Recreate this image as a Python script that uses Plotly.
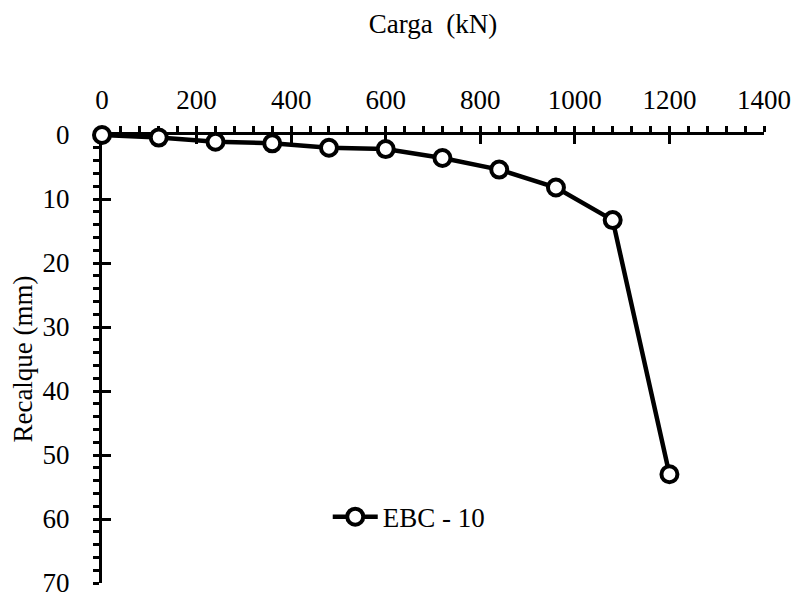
import plotly.graph_objects as go

carga_kN = [0, 120, 240, 360, 480, 600, 720, 840, 960, 1080, 1200]
recalque_mm = [0, 0.4, 1.05, 1.3, 2.0, 2.2, 3.6, 5.4, 8.2, 13.3, 53.0]
series_name = "EBC - 10"
x_title = "Carga  (kN)"
y_title = "Recalque (mm)"

FONT = "Liberation Serif"
FS = 27

fig = go.Figure()
fig.add_trace(go.Scatter(
    x=carga_kN, y=recalque_mm, name=series_name, mode="lines+markers",
    line=dict(color="black", width=4.5),
    marker=dict(symbol="circle", size=16, color="white",
                line=dict(color="black", width=4)),
    cliponaxis=False,
))
# dummy trace for overlay axes (inner half of crossing major ticks)
fig.add_trace(go.Scatter(x=[None], y=[None], xaxis="x2", yaxis="y2",
                         showlegend=False, hoverinfo="skip"))

# page body has an 8px default margin, so the figure is sized to fit
fig.update_layout(
    width=791, height=593,
    paper_bgcolor="white", plot_bgcolor="white",
    margin=dict(l=94, r=35, t=127, b=18),
    font=dict(family=FONT, size=FS, color="black"),
    showlegend=True,
    legend=dict(x=0.341, y=0.147, xanchor="left", yanchor="middle",
                itemwidth=45,
                bgcolor="rgba(0,0,0,0)", font=dict(family=FONT, size=FS)),
    xaxis=dict(
        side="top", range=[0, 1400], tick0=0, dtick=200,
        showline=True, linecolor="black", linewidth=3,
        ticks="outside", ticklen=6, tickwidth=2.5, tickcolor="black",
        minor=dict(dtick=40, tick0=0, ticks="outside", ticklen=6,
                   tickwidth=2.5, tickcolor="black"),
        showgrid=False, zeroline=False, layer="below traces",
        automargin=False,
        ticklabelstandoff=6,
        title=dict(text=x_title, standoff=44, font=dict(family=FONT, size=FS)),
        tickfont=dict(family=FONT, size=FS),
    ),
    yaxis=dict(
        range=[70, 0], tick0=0, dtick=10,
        showline=True, linecolor="black", linewidth=3,
        ticks="outside", ticklen=6, tickwidth=2.5, tickcolor="black",
        minor=dict(dtick=2, tick0=0, ticks="outside", ticklen=6,
                   tickwidth=2.5, tickcolor="black"),
        showgrid=False, zeroline=False, layer="below traces",
        automargin=False,
        ticklabelstandoff=18,
        title=dict(text=y_title, standoff=9, font=dict(family=FONT, size=FS)),
        tickfont=dict(family=FONT, size=FS),
    ),
    xaxis2=dict(
        overlaying="x", side="top", anchor="y2", range=[0, 1400], tick0=0, dtick=200,
        ticks="inside", ticklen=9, tickwidth=2.5, tickcolor="black",
        showticklabels=False, showline=False, showgrid=False, zeroline=False,
        layer="below traces", automargin=False,
    ),
    yaxis2=dict(
        overlaying="y", side="left", anchor="x2", range=[70, 0], tick0=0, dtick=10,
        ticks="inside", ticklen=9, tickwidth=2.5, tickcolor="black",
        showticklabels=False, showline=False, showgrid=False, zeroline=False,
        layer="below traces", automargin=False,
    ),
)

fig.write_html("out.html")
